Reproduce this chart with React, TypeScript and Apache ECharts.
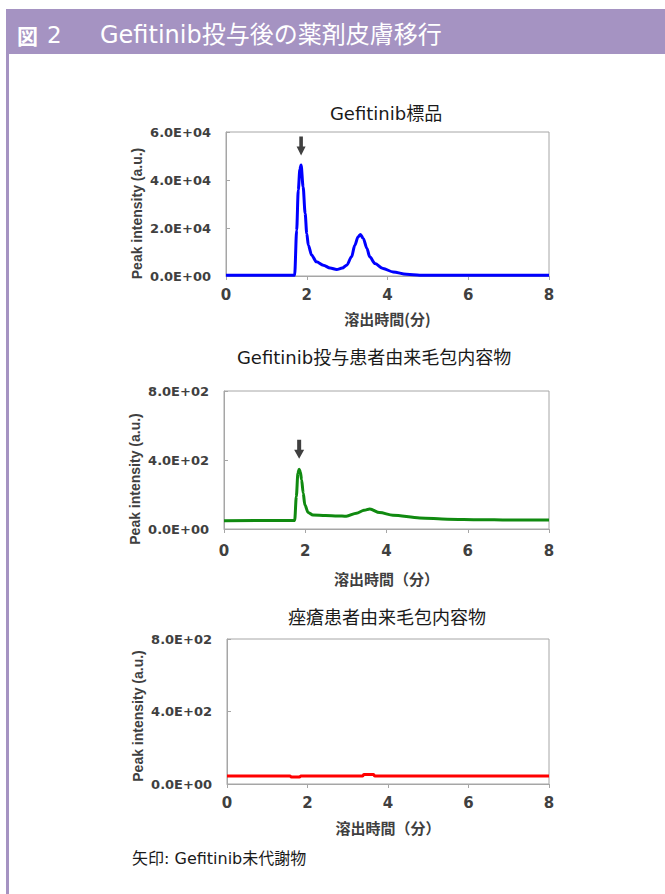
import React, { useEffect, useRef } from "react";
import * as echarts from "echarts";

// ---- data ----
const stdTime = [0, 1.7, 1.75, 1.79, 1.83, 1.86, 1.91, 1.96, 2.0, 2.04, 2.12, 2.24, 2.41, 2.58, 2.74, 2.88, 2.99, 3.11, 3.19, 3.27, 3.33, 3.4, 3.49, 3.56, 3.69, 3.89, 4.14, 4.47, 4.8, 8];
const stdValue = [300, 300, 19000, 35800, 44500, 46300, 37200, 26100, 17700, 12800, 8700, 5900, 4500, 3300, 2700, 3300, 4500, 8000, 12800, 16300, 17300, 15600, 11500, 8000, 5200, 3100, 1700, 700, 300, 300];

const patientTime = [0, 1.74, 1.78, 1.82, 1.85, 1.88, 1.91, 1.95, 1.99, 2.07, 2.19, 2.5, 2.8, 3.01, 3.26, 3.45, 3.59, 3.83, 4.16, 4.82, 5.5, 6.3, 7.0, 7.94, 8];
const patientValue = [48, 50, 188, 324, 347, 330, 285, 208, 140, 96, 81, 78, 76, 74, 92, 108, 116, 95, 80, 64, 57, 54, 52, 52, 52];

const acneTime = [0, 1.57, 1.6, 1.8, 1.83, 3.37, 3.4, 3.64, 3.67, 8];
const acneValue = [44, 44, 38, 38, 44, 44, 53, 53, 44, 44];

const arrowStd = [1.86, 46300];
const arrowPatient = [1.85, 347];

const xTicks = { min: 0, max: 8, interval: 2 };
const yStd = { min: 0, max: 60000, interval: 20000 };
const ySmall = { min: 0, max: 800, interval: 400 };

const headerFig = "図";
const headerNum = "2";
const headerTitle = "Gefitinib投与後の薬剤皮膚移行";
const titles = ["Gefitinib標品", "Gefitinib投与患者由来毛包内容物", "痤瘡患者由来毛包内容物"];
const xNames = ["溶出時間(分)", "溶出時間（分）", "溶出時間（分）"];
const yName = "Peak intensity (a.u.)";
const footnote = "矢印: Gefitinib未代謝物";

const toPairs = (t: number[], v: number[]) => t.map((x, i) => [x, v[i]]);

const sciFmt = (v: number) => {
  if (v === 0) return "0.0E+00";
  const e = Math.floor(Math.log10(Math.abs(v)) + 1e-9);
  const m = v / Math.pow(10, e);
  return m.toFixed(1) + "E+" + String(e).padStart(2, "0");
};

const GRAY = "#404040";
const FRAME = "#a6a6a6";
const ARROW = "path://M3,0L7,0L7,10L10,10L5,19L0,10L3,10Z";

export default function App() {
  const ref = useRef<HTMLDivElement>(null);
  useEffect(() => {
    if (!ref.current) return;
    const chart = echarts.init(ref.current, undefined, { renderer: "svg" });

    const grids = [
      { left: 226, top: 132, width: 323, height: 144 },
      { left: 224, top: 391, width: 325, height: 138 },
      { left: 227, top: 639, width: 322, height: 145 },
    ];
    const xLabelMargin = [11, 14, 11];
    const xNameGap = [35, 42, 36];
    const yNamePad = [
      [0, 19, 0, 0],
      [0, 38, 0, 0],
      [0, 9, 0, 0],
    ];

    const xAxes = grids.map((_, i) => ({
      type: "value",
      gridIndex: i,
      ...xTicks,
      name: xNames[i],
      nameLocation: "middle",
      nameGap: xNameGap[i],
      nameTextStyle: {
        fontFamily: "Noto Sans CJK JP",
        fontWeight: "bold",
        fontSize: 15,
        color: GRAY,
      },
      axisLine: { show: true, lineStyle: { color: FRAME, width: 1 } },
      axisTick: { show: true, inside: false, length: 4, lineStyle: { color: FRAME } },
      axisLabel: {
        margin: xLabelMargin[i],
        fontFamily: "DejaVu Sans",
        fontWeight: "bold",
        fontSize: 15,
        color: GRAY,
      },
      splitLine: { show: false },
    }));

    const yAxes = grids.map((_, i) => ({
      type: "value",
      gridIndex: i,
      ...(i === 0 ? yStd : ySmall),
      name: yName,
      nameLocation: "middle",
      nameGap: 82,
      nameTextStyle: {
        fontFamily: "Liberation Sans",
        fontWeight: "bold",
        fontSize: 14,
        color: GRAY,
        padding: yNamePad[i],
      },
      axisLine: { show: true, lineStyle: { color: FRAME, width: 1 } },
      axisTick: { show: true, inside: true, length: 4, lineStyle: { color: FRAME } },
      axisLabel: {
        margin: 15,
        formatter: sciFmt,
        fontFamily: "DejaVu Sans",
        fontWeight: "bold",
        fontSize: 13,
        color: GRAY,
      },
      splitLine: { show: false },
    }));

    const arrowMark = (coord: number[], offset: number, size: number[]) => ({
      symbol: ARROW,
      symbolSize: size,
      symbolOffset: [0, offset],
      symbolKeepAspect: false,
      itemStyle: { color: GRAY },
      label: { show: false },
      silent: true,
      data: [{ coord }],
    });

    const option = {
      animation: false,
      backgroundColor: "#ffffff",
      title: [
        { text: titles[0], left: 386, top: 104 },
        { text: titles[1], left: 374, top: 348 },
        { text: titles[2], left: 387, top: 608 },
      ].map((t) => ({
        ...t,
        textAlign: "center",
        padding: 0,
        textStyle: {
          fontFamily: "DejaVu Sans, Noto Sans CJK JP",
          fontWeight: "normal",
          fontSize: 18,
          color: "#1a1a1a",
        },
      })),
      grid: grids.map((g) => ({ ...g, show: true, borderColor: FRAME, borderWidth: 1, backgroundColor: "transparent" })),
      xAxis: xAxes,
      yAxis: yAxes,
      series: [
        {
          type: "line",
          xAxisIndex: 0,
          yAxisIndex: 0,
          data: toPairs(stdTime, stdValue),
          showSymbol: false,
          smooth: 0.3,
          smoothMonotone: "x",
          lineStyle: { color: "#0000ff", width: 3 },
          markPoint: arrowMark(arrowStd, -19, [9, 19]),
        },
        {
          type: "line",
          xAxisIndex: 1,
          yAxisIndex: 1,
          data: toPairs(patientTime, patientValue),
          showSymbol: false,
          smooth: 0.3,
          smoothMonotone: "x",
          lineStyle: { color: "#108a10", width: 3 },
          markPoint: arrowMark(arrowPatient, -20, [10, 19]),
        },
        {
          type: "line",
          xAxisIndex: 2,
          yAxisIndex: 2,
          data: toPairs(acneTime, acneValue),
          showSymbol: false,
          lineStyle: { color: "#ff0000", width: 3 },
        },
      ],
      graphic: [
        { type: "rect", shape: { x: 6, y: 9, width: 659, height: 45 }, style: { fill: "#a593c2" }, silent: true },
        { type: "rect", shape: { x: 6, y: 54, width: 3, height: 840 }, style: { fill: "#a593c2" }, silent: true },
        {
          type: "text",
          x: 17,
          y: 35,
          style: {
            text: headerFig,
            fill: "#ffffff",
            font: "bold 21px 'Noto Sans CJK JP'",
            verticalAlign: "middle",
          },
          silent: true,
        },
        {
          type: "text",
          x: 47,
          y: 35,
          style: {
            text: headerNum,
            fill: "#ffffff",
            font: "23px 'DejaVu Sans'",
            verticalAlign: "middle",
          },
          silent: true,
        },
        {
          type: "text",
          x: 100,
          y: 35,
          style: {
            text: headerTitle,
            fill: "#ffffff",
            font: "24px 'DejaVu Sans', 'Noto Sans CJK JP'",
            verticalAlign: "middle",
          },
          silent: true,
        },
        {
          type: "text",
          x: 132,
          y: 858,
          style: {
            text: footnote,
            fill: "#1a1a1a",
            font: "16px 'DejaVu Sans', 'Noto Sans CJK JP'",
            verticalAlign: "middle",
          },
          silent: true,
        },
      ],
    };

    chart.setOption(option as any);
    return () => chart.dispose();
  }, []);

  return (
    <div
      ref={ref}
      style={{ position: "absolute", left: 0, top: 0, width: 665, height: 894, background: "#fff" }}
    />
  );
}
